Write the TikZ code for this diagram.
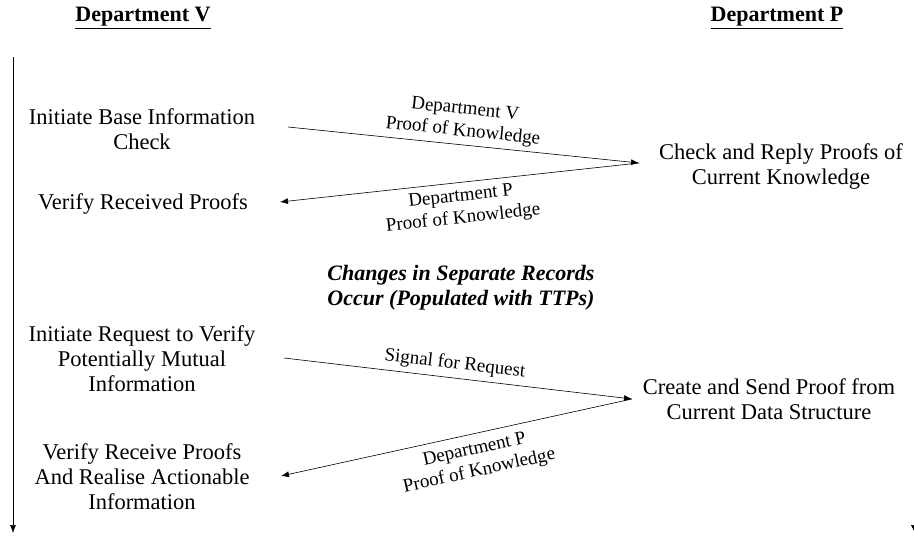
\documentclass[tikz,border=0pt]{standalone}
\usepackage{fontspec}
\setmainfont{Liberation Serif}
\usetikzlibrary{arrows.meta}
\begin{document}
\begin{tikzpicture}[x=1pt,y=-1pt,
  txt/.style={align=center,font=\fontsize{22.5}{25}\selectfont,inner sep=0pt},
  hdr/.style={font=\fontsize{22}{24}\selectfont\bfseries,inner sep=0pt},
  lbl/.style={align=center,font=\fontsize{19}{22}\selectfont,inner sep=0pt},
  msg/.style={-{Latex[length=8pt,width=6pt]},line width=0.6pt},
  tline/.style={-{Latex[length=8pt,width=6pt]},line width=0.6pt}]
\useasboundingbox (0,0) rectangle (914,537);
% headers
\node[hdr] (hv) at (143,18) {\underline{Department V}};
\node[hdr] (hp) at (777,18) {\underline{Department P}};
% timelines
\coordinate (lt) at (13,57);
\coordinate (lb) at (13,533);
\draw[tline] (lt) -- (lb);
\coordinate (rt) at (914.8,57);
\coordinate (rb) at (914.8,533);
\draw[-{Latex[length=8pt,width=8pt]},line width=0.6pt] (rt) -- (rb);
% left texts
\node[txt] (v1) at (142,129.5) {Initiate Base Information\\Check};
\node[txt] (v2) at (143,204) {Verify Received Proofs};
\node[txt] (v3) at (142,358.5) {Initiate Request to Verify\\Potentially Mutual\\Information};
\node[txt] (v4) at (142,476.5) {Verify Receive Proofs\\And Realise Actionable\\Information};
% right texts
\node[txt] (p1) at (781,166.5) {Check and Reply Proofs of\\Current Knowledge};
\node[txt] (p2) at (769,399) {Create and Send Proof from\\Current Data Structure};
% middle
\node[txt,font=\fontsize{22}{25}\selectfont\bfseries\itshape] (mid) at (461,288) {Changes in Separate Records\\Occur (Populated with TTPs)};
% arrow endpoints
\coordinate (a1s) at (288,127);
\coordinate (a1e) at (639,163);
\coordinate (a2e) at (280,202);
\coordinate (a3s) at (284,358);
\coordinate (a3e) at (632,399);
\coordinate (a4e) at (281,476);
\draw[msg] (a1s) -- (a1e);
\draw[msg] (a1e) -- (a2e);
\draw[msg] (a3s) -- (a3e);
\draw[msg] (a3e) -- (a4e);
% labels
\node[lbl,rotate=-5.9] (l1) at (464,121) {Department V\\Proof of Knowledge};
\node[lbl,rotate=6.2] (l2) at (462,208) {Department P\\Proof of Knowledge};
\node[lbl,rotate=-6.7] (l3) at (455,364) {Signal for Request};
\node[lbl,rotate=12.4] (l4) at (477,461) {Department P\\Proof of Knowledge};
\end{tikzpicture}
\end{document}
